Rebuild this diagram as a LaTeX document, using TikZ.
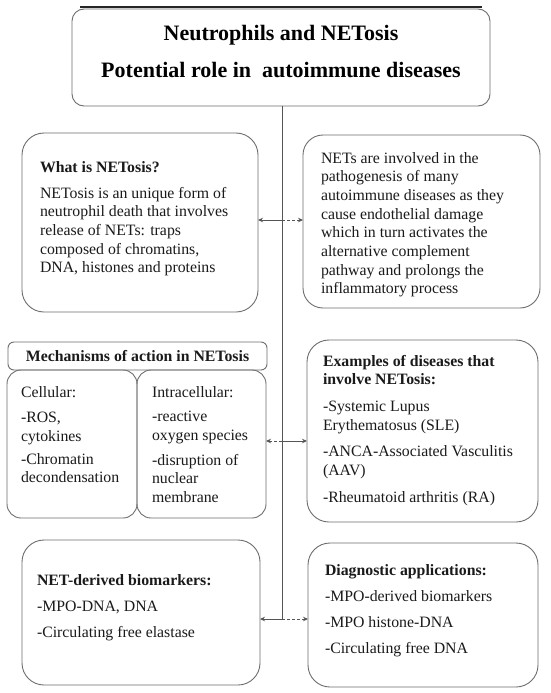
\documentclass[tikz,border=0pt]{standalone}
\usepackage{fontspec}
\setmainfont{Liberation Serif}
\usetikzlibrary{arrows.meta}
\definecolor{bordergray}{HTML}{6E6E6E}
\definecolor{linegray}{HTML}{555555}
\definecolor{textblack}{HTML}{1A1A1A}
\newcommand\mybox[7]{\node[#7, rounded corners=#6pt, minimum width={(#4-#2)*1pt}, minimum height={(#5-#3)*1pt}] (#1) at ({(#2+#4)/2},{(#3+#5)/2}) {};}
\begin{document}
\begin{tikzpicture}[x=1pt,y=-1pt,
  box/.style={draw=bordergray, line width=0.9pt, inner sep=0pt, outer sep=0pt},
  txt/.style={anchor=north west, inner sep=0pt, outer sep=0pt, align=left, font=\fontsize{15.8}{18.7}\selectfont, text=textblack},
  conn/.style={draw=linegray, line width=0.9pt},
  tip/.style={-{Stealth[length=5pt,width=4.5pt]}},
  dsh/.style={dash pattern=on 3pt off 2pt}]
\useasboundingbox[fill=white] (0,0) rectangle (550,693);
% top rule
\coordinate (rl) at (80,7);
\coordinate (rr) at (482,7);
\draw[draw=black!85, line width=2pt] (rl) -- (rr);
% boxes
\mybox{title}{72}{9}{490}{106}{12}{box}
\mybox{what}{22}{133}{258}{312}{22}{box}
\mybox{nets}{303}{135}{540}{308}{20}{box}
\mybox{mech}{8}{342}{267}{370}{6}{box}
\mybox{cell}{7}{370}{137}{518}{14}{box}
\mybox{intra}{137}{370}{266}{518}{14}{box}
\mybox{examples}{307}{340}{538}{522}{22}{box}
\mybox{derived}{22}{540}{260}{685}{22}{box}
\mybox{diag}{308}{543}{538}{687}{22}{box}
% title text
\node[anchor=north, inner sep=0pt, align=center, font=\fontsize{22}{37}\selectfont\bfseries] (titletext) at (281,14.1)
  {\strut Neutrophils and NETosis\\ Potential role in\ \ autoimmune diseases};
\node[inner sep=0pt, font=\fontsize{15.8}{18.7}\selectfont\bfseries, text=textblack] (mechtext) at (mech.center) {Mechanisms of action in NETosis};
% block texts
\node[txt] (whattext) at (40,159) {\strut\textbf{What is NETosis?}\\[7.3pt]
  NETosis is an unique form of\\ neutrophil death that involves\\ release of NETs: traps\\ composed of chromatins,\\ DNA, histones and proteins};
\node[txt] (netstext) at (321,150) {\strut NETs are involved in the\\ pathogenesis of many\\ autoimmune diseases as they\\ cause endothelial damage\\ which in turn activates the\\ alternative complement\\ pathway and prolongs the\\ inflammatory process};
\node[txt] (celltext) at (21,384) {\strut Cellular:\\[7pt] -ROS,\\ cytokines\\[4pt] -Chromatin\\ decondensation};
\node[txt] (intratext) at (152,384) {\strut Intracellular:\\[6pt] -reactive\\ oxygen species\\[6pt] -disruption of\\ nuclear\\ membrane};
\node[txt] (extext) at (323,353) {\strut\textbf{Examples of diseases that}\\ \textbf{involve NETosis:}\\[8pt] -Systemic Lupus\\ Erythematosus (SLE)\\[8pt] -ANCA-Associated Vasculitis\\ (AAV)\\[8pt] -Rheumatoid arthritis (RA)};
\node[txt] (dertext) at (37,572) {\strut\textbf{NET-derived biomarkers:}\\[7.5pt] -MPO-DNA, DNA\\[7.5pt] -Circulating free elastase};
\node[txt] (diagtext) at (325,562) {\strut\textbf{Diagnostic applications:}\\[7.5pt] -MPO-derived biomarkers\\[7.5pt] -MPO histone-DNA\\[7.5pt] -Circulating free DNA};
% connectors
\coordinate (j1) at (282,220);
\coordinate (j2) at (282,441);
\coordinate (j3) at (282,619);
\draw[conn] (title.south -| j1) -- (j3);
\draw[conn,tip] (j1) -- (j1 -| what.east);
\draw[conn,tip,dsh] (j1) -- (j1 -| nets.west);
\draw[conn,tip,dsh] (j2) -- (j2 -| intra.east);
\draw[conn,tip] (j2) -- (j2 -| examples.west);
\draw[conn,tip] (j3) -- (j3 -| derived.east);
\draw[conn,tip,dsh] (j3) -- (j3 -| diag.west);
\end{tikzpicture}
\end{document}
